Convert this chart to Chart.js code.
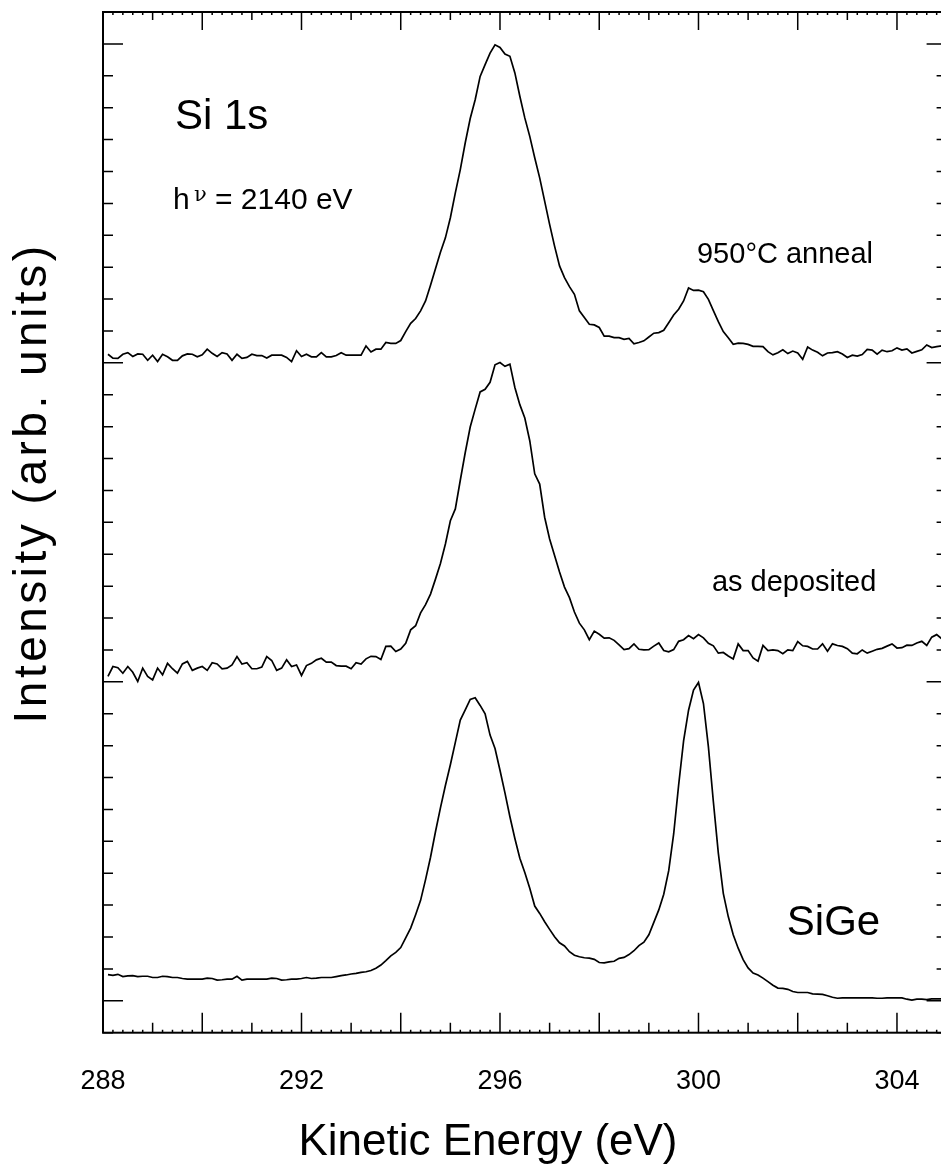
<!DOCTYPE html>
<html>
<head>
<meta charset="utf-8">
<script src="https://cdn.jsdelivr.net/npm/chart.js@4.4.1/dist/chart.umd.min.js"></script>
<style>
  html, body { margin: 0; padding: 0; background: #fff; overflow: hidden; }
  #wrap { width: 960px; height: 1171px; }
</style>
</head>
<body>
<div id="wrap"><canvas id="spec" width="960" height="1171"></canvas></div>
<script>
// Si 1s spectra, kinetic energy grid 288.1 .. 305.0 eV in 0.1 eV steps
const eStart = 288.1;
const eStep = 0.1;

// intensities above each trace's own baseline
const annealed = [
  0.27, 0.15, 0.14, 0.27, 0.32, 0.20, 0.28, 0.27, 0.08, 0.24,
  0.04, 0.27, 0.19, 0.08, 0.08, 0.22, 0.28, 0.27, 0.19, 0.25,
  0.43, 0.30, 0.20, 0.32, 0.28, 0.08, 0.27, 0.14, 0.17, 0.27,
  0.23, 0.23, 0.15, 0.24, 0.24, 0.24, 0.17, 0.04, 0.38, 0.20,
  0.27, 0.19, 0.19, 0.32, 0.19, 0.19, 0.23, 0.32, 0.24, 0.24,
  0.24, 0.24, 0.53, 0.34, 0.43, 0.43, 0.64, 0.61, 0.61, 0.70,
  0.98, 1.24, 1.39, 1.63, 1.94, 2.43, 2.95, 3.47, 3.92, 4.55,
  5.33, 6.06, 6.90, 7.66, 8.25, 8.98, 9.35, 9.71, 9.97, 9.89,
  9.68, 9.61, 9.09, 8.36, 7.68, 7.10, 6.43, 5.80, 5.07, 4.34,
  3.66, 3.04, 2.67, 2.39, 2.15, 1.63, 1.42, 1.21, 1.19, 1.11,
  0.84, 0.84, 0.79, 0.79, 0.74, 0.77, 0.60, 0.64, 0.69, 0.81,
  0.93, 0.95, 1.02, 1.26, 1.50, 1.68, 1.94, 2.35, 2.27, 2.28,
  2.23, 1.99, 1.64, 1.29, 0.98, 0.79, 0.58, 0.62, 0.61, 0.58,
  0.52, 0.52, 0.51, 0.35, 0.25, 0.32, 0.41, 0.29, 0.37, 0.31,
  0.11, 0.50, 0.40, 0.33, 0.22, 0.31, 0.32, 0.35, 0.28, 0.17,
  0.24, 0.21, 0.26, 0.42, 0.40, 0.27, 0.40, 0.35, 0.38, 0.47,
  0.40, 0.44, 0.31, 0.36, 0.41, 0.56, 0.48, 0.51, 0.53, 0.50
];

const asDeposited = [
  0.17, 0.48, 0.44, 0.27, 0.48, 0.30, 0.01, 0.43, 0.17, 0.06,
  0.43, 0.22, 0.58, 0.41, 0.27, 0.56, 0.64, 0.36, 0.43, 0.48,
  0.36, 0.60, 0.56, 0.41, 0.43, 0.53, 0.79, 0.56, 0.60, 0.41,
  0.41, 0.46, 0.79, 0.67, 0.36, 0.43, 0.69, 0.48, 0.53, 0.20,
  0.51, 0.58, 0.69, 0.74, 0.62, 0.62, 0.51, 0.49, 0.49, 0.41,
  0.60, 0.56, 0.72, 0.80, 0.79, 0.70, 1.11, 1.12, 0.95, 1.03,
  1.21, 1.63, 1.76, 2.16, 2.42, 2.75, 3.22, 3.71, 4.32, 5.05,
  5.42, 6.32, 7.19, 7.99, 8.55, 9.09, 9.17, 9.39, 9.94, 10.01,
  9.89, 9.96, 9.23, 8.69, 8.27, 7.56, 6.52, 6.20, 5.16, 4.48,
  3.96, 3.44, 2.97, 2.64, 2.19, 1.84, 1.63, 1.32, 1.59, 1.49,
  1.37, 1.38, 1.30, 1.16, 1.01, 1.04, 1.19, 1.02, 1.00, 1.01,
  1.12, 1.22, 0.98, 0.94, 1.01, 1.27, 1.32, 1.45, 1.35, 1.48,
  1.38, 1.21, 1.13, 0.90, 0.92, 0.81, 0.72, 1.19, 0.98, 0.98,
  0.75, 0.65, 1.14, 0.98, 1.00, 0.98, 0.88, 1.00, 0.98, 1.26,
  1.13, 1.11, 1.03, 1.03, 1.19, 0.96, 1.19, 1.14, 1.11, 1.04,
  0.90, 0.88, 1.00, 0.90, 0.96, 1.02, 1.05, 1.12, 1.19, 1.06,
  1.07, 1.15, 1.14, 1.22, 1.27, 1.14, 1.40, 1.48, 1.35, 1.30
];

const sige = [
  0.82, 0.80, 0.83, 0.76, 0.78, 0.79, 0.76, 0.77, 0.77, 0.73,
  0.73, 0.77, 0.76, 0.73, 0.73, 0.70, 0.68, 0.68, 0.68, 0.68,
  0.71, 0.70, 0.65, 0.66, 0.68, 0.68, 0.77, 0.65, 0.68, 0.68,
  0.68, 0.68, 0.68, 0.71, 0.70, 0.65, 0.66, 0.68, 0.68, 0.70,
  0.73, 0.70, 0.71, 0.73, 0.73, 0.73, 0.76, 0.79, 0.81, 0.84,
  0.86, 0.89, 0.91, 0.95, 1.02, 1.12, 1.26, 1.41, 1.52, 1.67,
  1.97, 2.28, 2.70, 3.15, 3.80, 4.50, 5.30, 6.05, 6.75, 7.40,
  8.10, 8.80, 9.12, 9.45, 9.50, 9.26, 9.00, 8.33, 7.91, 7.23,
  6.52, 5.77, 5.09, 4.47, 4.02, 3.53, 2.97, 2.74, 2.48, 2.24,
  2.01, 1.82, 1.72, 1.54, 1.43, 1.38, 1.35, 1.34, 1.30, 1.20,
  1.19, 1.22, 1.24, 1.33, 1.36, 1.45, 1.57, 1.73, 1.84, 2.07,
  2.46, 2.85, 3.34, 4.08, 5.23, 6.76, 8.15, 9.11, 9.74, 9.98,
  9.32, 7.96, 6.24, 4.63, 3.37, 2.64, 2.07, 1.65, 1.29, 1.03,
  0.87, 0.81, 0.71, 0.60, 0.49, 0.40, 0.39, 0.36, 0.29, 0.26,
  0.26, 0.26, 0.22, 0.21, 0.20, 0.16, 0.11, 0.08, 0.09, 0.09,
  0.09, 0.09, 0.09, 0.09, 0.09, 0.08, 0.08, 0.09, 0.09, 0.09,
  0.09, 0.05, 0.02, 0.05, 0.05, 0.04, 0.06, 0.06, 0.06, 0.06
];

// vertical offset of each trace
const offsets = [20, 10, 0];
const xTickLabels = [288, 292, 296, 300, 304];

// in-plot captions, placed in data coordinates
const captions = [
  { text: 'Si 1s', x: 289.45, y: 27.32, size: 42 },
  { text: '950°C anneal', x: 299.97, y: 23.13, size: 29 },
  { text: 'as deposited', x: 300.27, y: 12.86, size: 29 },
  { text: 'SiGe', x: 301.78, y: 2.07, size: 42 }
];

const FONT = '"Liberation Sans", Arial, Helvetica, sans-serif';

function toPoints(vals, off) {
  return vals.map((v, i) => ({ x: +(eStart + i * eStep).toFixed(2), y: v + off }));
}

const framePlugin = {
  id: 'frame',
  afterDatasetsDraw(chart) {
    const { ctx, chartArea: a, scales: { x, y } } = chart;
    ctx.save();
    ctx.strokeStyle = '#000';
    ctx.fillStyle = '#000';

    // box
    ctx.lineWidth = 2;
    ctx.strokeRect(a.left, a.top, a.right - a.left, a.bottom - a.top);

    // energy ticks: 0.2 eV minor, 1 eV medium, 2 eV major
    ctx.lineWidth = 1.5;
    ctx.beginPath();
    for (let i = 0; i <= 85; i++) {
      const px = x.getPixelForValue(288 + i * 0.2);
      let top = 3, bot = 3;
      if (i % 10 === 0) { top = 18; bot = 20; }
      else if (i % 5 === 0) { top = 8; bot = 10; }
      ctx.moveTo(px, a.top); ctx.lineTo(px, a.top + top);
      ctx.moveTo(px, a.bottom); ctx.lineTo(px, a.bottom - bot);
    }
    // intensity ticks, long ones on each trace baseline
    for (let v = -1; v <= 31; v++) {
      const py = y.getPixelForValue(v);
      const len = v % 10 === 0 ? 20 : 10;
      ctx.moveTo(a.left, py); ctx.lineTo(a.left + len, py);
      ctx.moveTo(a.right, py); ctx.lineTo(a.right - len, py);
    }
    ctx.stroke();

    // energy labels
    ctx.font = '27px ' + FONT;
    ctx.textAlign = 'center';
    ctx.textBaseline = 'alphabetic';
    xTickLabels.forEach(t => ctx.fillText(String(t), x.getPixelForValue(t), a.bottom + 56));

    // axis titles
    ctx.font = '44px ' + FONT;
    ctx.fillText('Kinetic Energy (eV)', 488, 1155);

    ctx.save();
    ctx.translate(46, 483);
    ctx.rotate(-Math.PI / 2);
    ctx.font = '46px ' + FONT;
    ctx.letterSpacing = '3.5px';
    ctx.fillText('Intensity (arb. units)', 0, 0);
    ctx.restore();

    // captions
    ctx.textAlign = 'left';
    captions.forEach(c => {
      ctx.font = c.size + 'px ' + FONT;
      ctx.fillText(c.text, x.getPixelForValue(c.x), y.getPixelForValue(c.y));
    });

    // photon energy line with a small raised nu
    const hx = x.getPixelForValue(289.41), hy = y.getPixelForValue(24.82);
    ctx.font = '30px ' + FONT;
    ctx.fillText('h', hx, hy);
    ctx.font = '21px "DejaVu Serif", serif';
    ctx.fillText('ν', hx + 21, hy - 8);
    ctx.font = '30px ' + FONT;
    ctx.fillText('= 2140 eV', hx + 42, hy);

    ctx.restore();
  }
};

const series = [annealed, asDeposited, sige];

new Chart(document.getElementById('spec'), {
  type: 'line',
  data: {
    datasets: series.map((s, k) => ({
      data: toPoints(s, offsets[k]),
      borderColor: '#000',
      borderWidth: 1.7,
      pointRadius: 0,
      tension: 0,
      fill: false
    }))
  },
  options: {
    responsive: false,
    animation: false,
    devicePixelRatio: 1,
    layout: { padding: { left: 103, top: 12, right: 13.4, bottom: 138.3 } },
    plugins: { legend: { display: false }, tooltip: { enabled: false } },
    scales: {
      x: { type: 'linear', min: 288, max: 305, display: false },
      y: { type: 'linear', min: -1, max: 31, display: false }
    }
  },
  plugins: [framePlugin]
});
</script>
</body>
</html>
